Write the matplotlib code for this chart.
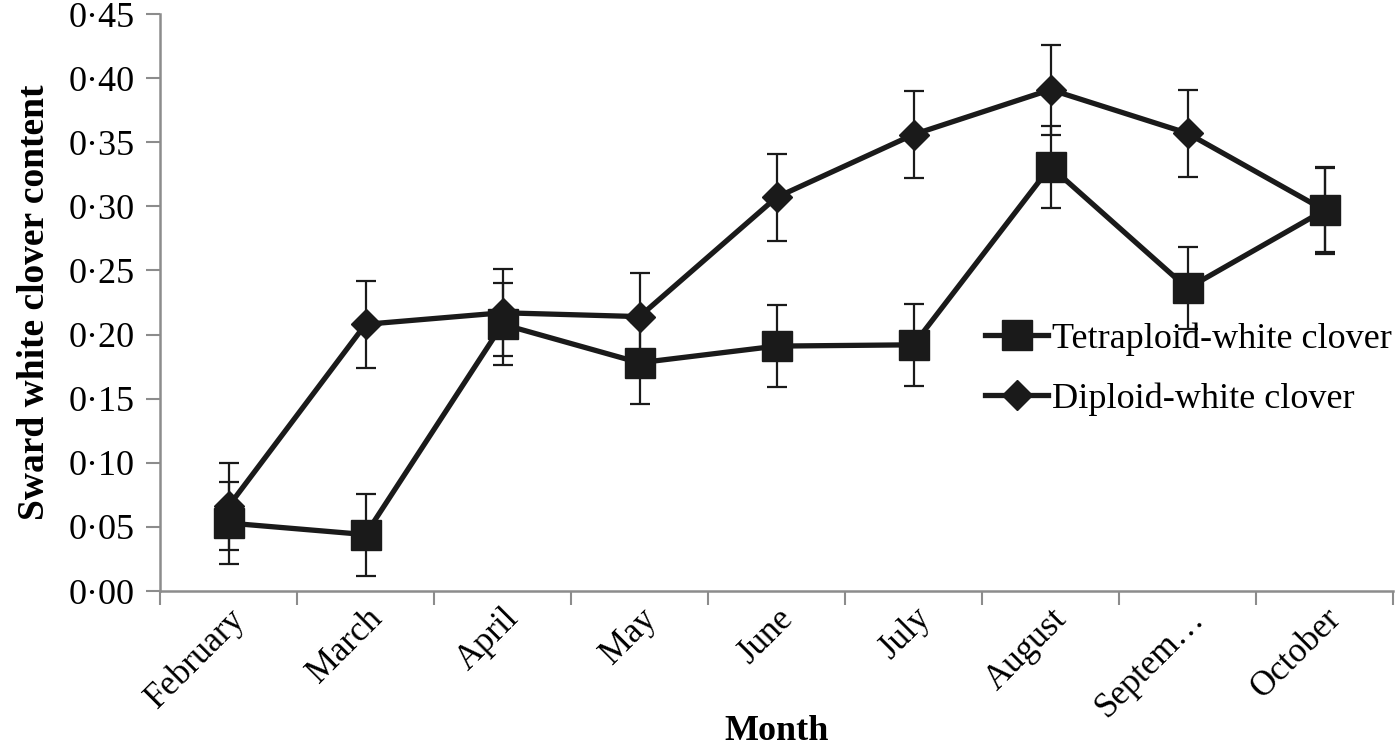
import numpy as np
from matplotlib import pyplot as plt

months = ["February", "March", "April", "May", "June", "July", "August", "Septem\u2026", "October"]

tetra = [0.053, 0.044, 0.208, 0.178, 0.191, 0.192, 0.331, 0.236, 0.297]
tetra_err = [0.032, 0.032, 0.032, 0.032, 0.032, 0.032, 0.032, 0.032, 0.033]

diploid = [0.066, 0.208, 0.217, 0.214, 0.307, 0.356, 0.391, 0.357, 0.297]
diploid_err = [0.034, 0.034, 0.034, 0.034, 0.034, 0.034, 0.035, 0.034, 0.034]

y_ticks = [0.00, 0.05, 0.10, 0.15, 0.20, 0.25, 0.30, 0.35, 0.40, 0.45]

plt.rcParams['font.family'] = ['Liberation Serif', 'DejaVu Serif']

INK = '#1a1a1a'
AXIS_GRAY = '#8c8c8c'

fig = plt.figure(figsize=(14, 7.45), dpi=100)
ax = fig.add_axes([160 / 1400, 1 - 591 / 745, (1393 - 160) / 1400, (591 - 14) / 745])

x = np.arange(len(months))

ax.errorbar(x, tetra, yerr=tetra_err, fmt='none', ecolor=INK, elinewidth=1.6,
            capsize=7, capthick=1.6, zorder=2)
ax.errorbar(x, diploid, yerr=diploid_err, fmt='none', ecolor=INK, elinewidth=1.6,
            capsize=7, capthick=1.6, zorder=2)

ax.plot(x, tetra, color=INK, linewidth=3.8, marker='s', markersize=21,
        label='Tetraploid-white clover', zorder=3)
ax.plot(x, diploid, color=INK, linewidth=3.8, marker='D', markersize=15,
        label='Diploid-white clover', zorder=3)

ax.set_xlim(-0.5, len(months) - 0.5)
ax.set_ylim(0, 0.45)

ax.set_yticks(y_ticks)
ax.set_yticklabels([f"{v:.2f}".replace('.', '\u00b7') for v in y_ticks], fontsize=26)

ax.set_xticks(x)
ax.set_xticklabels(months, rotation=45, ha='right', rotation_mode='anchor', fontsize=25)
ax.tick_params(axis='x', which='major', length=0, pad=8)
ax.set_xticks(np.arange(len(months) + 1) - 0.5, minor=True)
ax.tick_params(axis='x', which='minor', length=10, width=1.5, color=AXIS_GRAY)
ax.tick_params(axis='y', length=10, width=1.5, color=AXIS_GRAY, pad=8)

for side in ['top', 'right']:
    ax.spines[side].set_visible(False)
for side in ['left', 'bottom']:
    ax.spines[side].set_color(AXIS_GRAY)
    ax.spines[side].set_linewidth(1.8)

ax.set_ylabel("Sward white clover content", fontsize=27, fontweight='bold', labelpad=12)
ax.set_xlabel("Month", fontsize=26, fontweight='bold', va='center')
ax.xaxis.set_label_coords(0.5, (591 - 731) / 577)

ax.legend(loc='center left', bbox_to_anchor=(985 / 1400, 1 - 369 / 745),
          bbox_transform=fig.transFigure, frameon=False, fontsize=26,
          borderpad=0, borderaxespad=0, handlelength=1.75, handletextpad=0.1,
          labelspacing=0.72)

fig.savefig('out.png', dpi=100)
